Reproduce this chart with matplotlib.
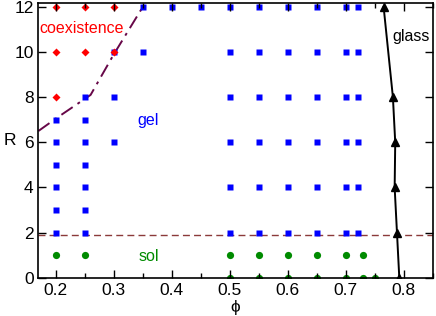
import numpy as np
import matplotlib
matplotlib.use('Agg')
import matplotlib.pyplot as plt
from matplotlib.ticker import MultipleLocator

plt.rcParams['font.family'] = ['Liberation Sans', 'DejaVu Sans']
plt.rcParams['font.size'] = 11.5

# coexistence (red diamonds)
coex_phi = [0.2, 0.25, 0.3, 0.2, 0.25, 0.3, 0.2]
coex_R = [12, 12, 12, 10, 10, 10, 8]

# gel (blue squares)
gel_phi = ([0.2] * 6 + [0.25] * 7 + [0.3] * 3 + [0.35] * 2 + [0.4, 0.45]
           + [0.5] * 6 + [0.55] * 6 + [0.6] * 6 + [0.65] * 6 + [0.7] * 6 + [0.72] * 6)
gel_R = ([2, 3, 4, 5, 6, 7] + [2, 3, 4, 5, 6, 7, 8] + [6, 8, 10] + [10, 12] + [12, 12]
         + [2, 4, 6, 8, 10, 12] * 6)

# sol (green circles)
sol_phi = [0.2, 0.25, 0.5, 0.55, 0.6, 0.65, 0.7, 0.73,
           0.5, 0.55, 0.6, 0.65, 0.7, 0.73, 0.75]
sol_R = [1, 1, 1, 1, 1, 1, 1, 1,
         0, 0, 0, 0, 0, 0, 0]

# glass line
glass_phi = [0.792, 0.788, 0.784, 0.785, 0.781, 0.765]
glass_R = [0, 2, 4, 6, 8, 12]

# coexistence / gel boundary
bound_phi = [0.17, 0.2, 0.26, 0.3, 0.35]
bound_R = [6.5, 7.05, 8.1, 9.9, 12]

sol_gel_R = 1.9

fig = plt.figure(figsize=(4.36, 3.16), dpi=100)
ax = fig.add_axes([0.088, 0.119, 0.905, 0.872])

ax.axhline(sol_gel_R, color='#8b3a3a', lw=1.0, ls=(0, (5, 3)), zorder=1)
ax.plot(bound_phi, bound_R, color='#670748', lw=1.4, ls=(0, (7, 3, 1.5, 3)), zorder=1)

ax.plot(gel_phi, gel_R, 's', color='#0000ff', ms=4.8, mec='none', zorder=1.5)
ax.plot(coex_phi, coex_R, 'D', color='#ff0000', ms=4.0, mec='none', zorder=1.6)
ax.plot(sol_phi, sol_R, 'o', color='#008b00', ms=5.2, mec='none', zorder=1.5)
ax.plot(glass_phi, glass_R, '-^', color='black', lw=1.4, ms=6, zorder=1.7)

ax.text(0.172, 11.05, 'coexistence', color='#ff0000', va='center', ha='left')
ax.text(0.341, 6.95, 'gel', color='#0000ff', va='center', ha='left')
ax.text(0.343, 0.92, 'sol', color='#008b00', va='center', ha='left')
ax.text(0.780, 10.7, 'glass', color='black', va='center', ha='left')

ax.set_xlim(0.17, 0.85)
ax.set_ylim(-0.03, 12.18)
ax.xaxis.set_major_locator(MultipleLocator(0.1))
ax.xaxis.set_minor_locator(MultipleLocator(0.05))
ax.yaxis.set_major_locator(MultipleLocator(2))
ax.tick_params(which='both', direction='in', top=True, right=True, width=1.0,
               labelsize=12.5)
ax.tick_params(which='major', length=6)
ax.tick_params(which='minor', length=3.5)
ax.set_axisbelow(False)
for s in ax.spines.values():
    s.set_linewidth(1.2)

ax.set_xlabel('ϕ', labelpad=1, fontsize=12.5)
ax.set_ylabel('R', rotation=0, labelpad=3, va='center', fontsize=12.5)

fig.savefig('out.png', dpi=100)
